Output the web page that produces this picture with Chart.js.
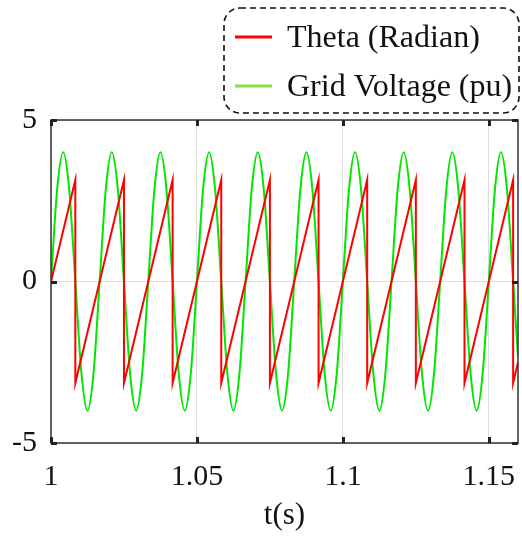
<!DOCTYPE html>
<html>
<head>
<meta charset="utf-8">
<script src="https://cdn.jsdelivr.net/npm/chart.js@4/dist/chart.umd.min.js"></script>
<style>
  html, body { margin: 0; padding: 0; background: #fff; }
  #wrap { width: 522px; height: 542px; }
</style>
</head>
<body>
<div id="wrap"><canvas id="chart"></canvas></div>
<script>
// Theta (Radian) - sawtooth corners
const thetaTimes = [1, 1.00833, 1.00833, 1.025, 1.025, 1.04167, 1.04167, 1.05833, 1.05833,
    1.075, 1.075, 1.09167, 1.09167, 1.10833, 1.10833, 1.125, 1.125, 1.14167, 1.14167,
    1.15833, 1.15833, 1.16];
const thetaValues = [0, 3.14, -3.14, 3.14, -3.14, 3.14, -3.14, 3.14, -3.14,
    3.14, -3.14, 3.14, -3.14, 3.14, -3.14, 3.14, -3.14, 3.14, -3.14,
    3.14, -3.14, -2.51];

// Grid Voltage (pu) - sampled every 1/8 cycle
const gridTimes = [
    1.00000, 1.00208, 1.00417, 1.00625, 1.00833, 1.01042, 1.01250, 1.01458,
    1.01667, 1.01875, 1.02083, 1.02292, 1.02500, 1.02708, 1.02917, 1.03125,
    1.03333, 1.03542, 1.03750, 1.03958, 1.04167, 1.04375, 1.04583, 1.04792,
    1.05000, 1.05208, 1.05417, 1.05625, 1.05833, 1.06042, 1.06250, 1.06458,
    1.06667, 1.06875, 1.07083, 1.07292, 1.07500, 1.07708, 1.07917, 1.08125,
    1.08333, 1.08542, 1.08750, 1.08958, 1.09167, 1.09375, 1.09583, 1.09792,
    1.10000, 1.10208, 1.10417, 1.10625, 1.10833, 1.11042, 1.11250, 1.11458,
    1.11667, 1.11875, 1.12083, 1.12292, 1.12500, 1.12708, 1.12917, 1.13125,
    1.13333, 1.13542, 1.13750, 1.13958, 1.14167, 1.14375, 1.14583, 1.14792,
    1.15000, 1.15208, 1.15417, 1.15625, 1.15833, 1.16000];
const gridValues = [
    0, 2.83, 4, 2.83, 0, -2.83, -4, -2.83,
    0, 2.83, 4, 2.83, 0, -2.83, -4, -2.83,
    0, 2.83, 4, 2.83, 0, -2.83, -4, -2.83,
    0, 2.83, 4, 2.83, 0, -2.83, -4, -2.83,
    0, 2.83, 4, 2.83, 0, -2.83, -4, -2.83,
    0, 2.83, 4, 2.83, 0, -2.83, -4, -2.83,
    0, 2.83, 4, 2.83, 0, -2.83, -4, -2.83,
    0, 2.83, 4, 2.83, 0, -2.83, -4, -2.83,
    0, 2.83, 4, 2.83, 0, -2.83, -4, -2.83,
    0, 2.83, 4, 2.83, 0, -2.35];

const seriesLabels = ['Theta (Radian)', 'Grid Voltage (pu)'];
const lineColors = ['#ff0000', '#00e600'];
const legendColors = ['#ff0000', '#88dd44'];

const xTicks = [1, 1.05, 1.1, 1.15];
const yTicks = [-5, 0, 5];

const SERIF = "'Liberation Serif', 'Times New Roman', serif";

function toPoints(xs, ys) {
    return xs.map((x, i) => ({ x: x, y: ys[i] }));
}

// frame, inner tick marks and the dashed legend box
const framePlugin = {
    id: 'frame',
    afterDraw(chart) {
        const ctx = chart.ctx;
        const a = chart.chartArea;
        const xs = chart.scales.x, ys = chart.scales.y;
        ctx.save();
        ctx.strokeStyle = '#333';
        ctx.lineWidth = 1.5;
        ctx.strokeRect(a.left, a.top, a.right - a.left, a.bottom - a.top);

        ctx.fillStyle = '#222';
        xTicks.forEach(v => {
            const px = Math.round(xs.getPixelForValue(v));
            ctx.fillRect(px - 1, a.bottom - 6, 3, 6);
            ctx.fillRect(px - 1, a.top, 3, 6);
        });
        yTicks.forEach(v => {
            const py = Math.round(ys.getPixelForValue(v));
            ctx.fillRect(a.left, py - 1, 6, 3);
            ctx.fillRect(a.right - 6, py - 1, 6, 3);
        });

        // legend
        const bx = 224, by = 8, bw = 295, bh = 105;
        ctx.fillStyle = '#fff';
        ctx.beginPath();
        ctx.roundRect(bx, by, bw, bh, 16);
        ctx.fill();
        ctx.setLineDash([6, 4]);
        ctx.strokeStyle = '#111';
        ctx.lineWidth = 1.6;
        ctx.stroke();
        ctx.setLineDash([]);

        ctx.font = '32px ' + SERIF;
        ctx.textBaseline = 'middle';
        ctx.textAlign = 'left';
        seriesLabels.forEach((lab, i) => {
            const cy = 37 + i * 49;
            ctx.strokeStyle = legendColors[i];
            ctx.lineWidth = 3;
            ctx.beginPath();
            ctx.moveTo(235, cy);
            ctx.lineTo(272, cy);
            ctx.stroke();
            ctx.fillStyle = '#111';
            ctx.fillText(lab, 287, cy + 2);
        });
        ctx.restore();
    }
};

const ctx = document.getElementById('chart').getContext('2d');
new Chart(ctx, {
    type: 'line',
    data: {
        datasets: [{
            label: seriesLabels[0],
            data: toPoints(thetaTimes, thetaValues),
            borderColor: lineColors[0],
            borderWidth: 2,
            pointRadius: 0,
            tension: 0
        }, {
            label: seriesLabels[1],
            data: toPoints(gridTimes, gridValues),
            borderColor: lineColors[1],
            borderWidth: 2,
            pointRadius: 0,
            cubicInterpolationMode: 'monotone'
        }]
    },
    options: {
        responsive: true,
        maintainAspectRatio: false,
        animation: false,
        layout: { autoPadding: false, padding: { top: 120, right: 4, left: 0, bottom: 0 } },
        plugins: {
            legend: { display: false },
            tooltip: { enabled: false }
        },
        scales: {
            x: {
                type: 'linear',
                min: 1,
                max: 1.16,
                afterBuildTicks: s => { s.ticks = xTicks.map(v => ({ value: v })); },
                afterFit: s => { s.height = 99; s.paddingLeft = 0; s.paddingRight = 0; },
                ticks: {
                    color: '#111',
                    font: { family: SERIF, size: 30 },
                    padding: 16,
                    maxRotation: 0,
                    callback: v => String(v)
                },
                grid: { color: '#dddddd', drawTicks: false },
                border: { display: false },
                title: {
                    display: true,
                    text: 't(s)',
                    color: '#111',
                    font: { family: SERIF, size: 31 },
                    padding: { top: 0, bottom: 8 }
                }
            },
            y: {
                min: -5,
                max: 5,
                afterBuildTicks: s => { s.ticks = yTicks.map(v => ({ value: v })); },
                afterFit: s => { s.width = 51; s.paddingTop = 0; s.paddingBottom = 0; },
                ticks: {
                    color: '#111',
                    font: { family: SERIF, size: 30 },
                    padding: 14
                },
                grid: { color: '#dddddd', drawTicks: false },
                border: { display: false }
            }
        }
    },
    plugins: [framePlugin]
});
</script>
</body>
</html>
